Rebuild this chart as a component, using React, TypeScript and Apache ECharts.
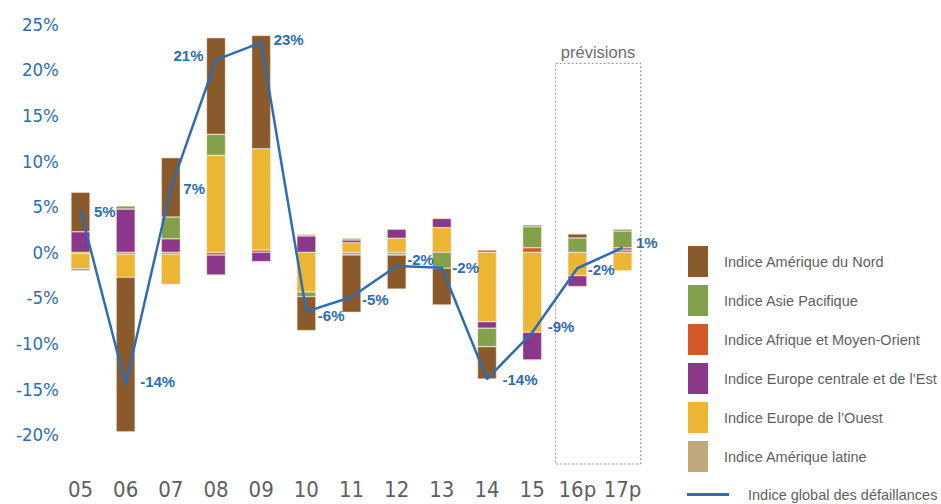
import React, { useEffect, useRef } from "react";
import * as echarts from "echarts";

const categories = ["05", "06", "07", "08", "09", "10", "11", "12", "13", "14", "15", "16p", "17p"];

// Regional contributions (percentage points)
const afriqueMoyenOrient = [-0.15, -0.2, -0.2, -0.3, 0.25, 0, 0, 0, 0, 0.25, 0.5, 0, 0.25];
const europeOuest = [-1.64, -2.54, -3.32, 10.64, 11.1, -4.35, 1.05, 1.54, 2.7, -7.61, -8.77, -2.56, -2.02];
const europeCentraleEst = [2.26, 4.75, 1.49, -2.2, -1.03, 1.79, 0.3, 0.99, 1.02, -0.72, -3.04, -1.2, 0.25];
const ameriqueLatine = [0, 0, 0, 0, 0, 0.19, -0.3, -0.3, 0, 0, 0, 0, 0];
const asiePacifique = [-0.22, 0.33, 2.38, 2.3, 0, -0.5, 0.19, 0, -1.75, -2.02, 2.3, 1.57, 1.83];
const ameriqueNord = [4.32, -16.95, 6.5, 10.59, 12.43, -3.73, -6.28, -3.73, -4.02, -3.54, 0.19, 0.44, 0.19];

// Global insolvency index
const indiceGlobal = [4.6, -14.5, 7.0, 21.1, 23.0, -6.5, -4.9, -1.5, -1.7, -13.9, -8.8, -1.75, 0.5];
const indiceGlobalLabels = ["5%", "-14%", "7%", "21%", "23%", "-6%", "-5%", "-2%", "-2%", "-14%", "-9%", "-2%", "1%"];

const yTicks = [-25, 25, 5]; // min, max, interval

// label styling (not data)
const labelPlacement: any[] = [
  { position: "right", offset: [2, 1] },
  { position: "right", offset: [3, -3] },
  { position: "right", offset: [1, 0] },
  { position: "left", offset: [-1, -4] },
  { position: "right", offset: [1, -3] },
  { position: "right", offset: [0, 4] },
  { position: "right", offset: [-1, 3] },
  { position: "right", offset: [-1, -6] },
  { position: "right", offset: [-1, 0] },
  { position: "right", offset: [4, 0] },
  { position: "right", offset: [4, -6] },
  { position: "right", offset: [-1, 1] },
  { position: "right", offset: [2, -5] },
];

const BLUE = "#2C6DB5";
const AXIS_FONT = "'DejaVu Sans Condensed', 'DejaVu Sans', sans-serif";
const FONT = "'Liberation Sans', Roboto, sans-serif";

const N_NORD = "Indice Amérique du Nord";
const N_ASIE = "Indice Asie Pacifique";
const N_AFR = "Indice Afrique et Moyen-Orient";
const N_ECE = "Indice Europe centrale et de l’Est";
const N_EO = "Indice Europe de l’Ouest";
const N_LAT = "Indice Amérique latine";
const N_GLOBAL = "Indice global des défaillances";

export default function App() {
  const ref = useRef<HTMLDivElement>(null);
  useEffect(() => {
    if (!ref.current) return;
    const chart = echarts.init(ref.current, null, { renderer: "svg" });
    const bar = (name: string, data: number[], color: string) => ({
      name,
      type: "bar",
      stack: "regions",
      data,
      barWidth: "42%",
      itemStyle: { color, borderColor: "rgba(240,225,200,0.7)", borderWidth: 0.6 },
    });
    chart.setOption({
      animation: false,
      grid: { left: 57.9, right: 295.9, top: 24.3, bottom: 23.7 },
      xAxis: {
        type: "category",
        data: categories,
        axisLine: { show: false },
        axisTick: { show: false },
        axisLabel: { color: "#5f5f5f", fontSize: 22, fontFamily: AXIS_FONT, margin: -2, interval: 0 },
      },
      yAxis: {
        type: "value",
        min: yTicks[0],
        max: yTicks[1],
        interval: yTicks[2],
        splitLine: { show: false },
        axisLine: { show: false },
        axisTick: { show: false },
        axisLabel: {
          color: BLUE,
          fontSize: 18.5,
          fontFamily: AXIS_FONT,
          margin: -1,
          formatter: (v: number) => (v === yTicks[0] ? "" : v + "%"),
        },
      },
      legend: [
        {
          data: [N_NORD, N_ASIE, N_AFR, N_ECE, N_EO, N_LAT],
          orient: "vertical",
          left: 683,
          top: 241,
          itemWidth: 20,
          itemHeight: 31,
          itemGap: 8,
          icon: "rect",
          selectedMode: false,
          itemStyle: { borderWidth: 0 },
          textStyle: { color: "#5f5f5f", fontSize: 14.5, fontFamily: FONT, padding: [0, 0, 0, 11] },
        },
        {
          data: [N_GLOBAL],
          left: 682,
          top: 482,
          itemWidth: 42,
          itemHeight: 3,
          icon: "rect",
          selectedMode: false,
          itemStyle: { borderWidth: 0 },
          textStyle: { color: "#5f5f5f", fontSize: 14.5, fontFamily: FONT, padding: [0, 0, 0, 14] },
        },
      ],
      series: [
        bar(N_AFR, afriqueMoyenOrient, "#D4592A"),
        bar(N_EO, europeOuest, "#ECB634"),
        bar(N_ECE, europeCentraleEst, "#8B388C"),
        bar(N_LAT, ameriqueLatine, "#BFA97B"),
        bar(N_ASIE, asiePacifique, "#83A04A"),
        bar(N_NORD, ameriqueNord, "#8A5A2D"),
        {
          name: N_GLOBAL,
          type: "line",
          z: 5,
          data: indiceGlobal.map((v, i) => ({ value: v, label: labelPlacement[i] })),
          symbol: "circle",
          symbolSize: 1,
          itemStyle: { color: BLUE },
          lineStyle: { color: BLUE, width: 2.5 },
          label: {
            show: true,
            distance: 11,
            color: BLUE,
            fontWeight: "bold",
            fontSize: 15,
            fontFamily: FONT,
            formatter: (p: any) => indiceGlobalLabels[p.dataIndex],
          },
        },
      ],
      graphic: [
        {
          type: "rect",
          shape: { x: 555.7, y: 63.3, width: 85, height: 400.7 },
          style: { fill: "none", stroke: "#8a8a8a", lineWidth: 1, lineDash: [2, 2] },
          silent: true,
        },
        {
          type: "text",
          x: 598,
          y: 51.7,
          style: {
            text: "prévisions",
            fill: "#6d6d6d",
            fontSize: 16.5,
            fontFamily: FONT,
            textAlign: "center",
            textVerticalAlign: "middle",
          },
          silent: true,
        },
      ],
    });
    return () => chart.dispose();
  }, []);
  return (
    <div
      ref={ref}
      style={{ position: "fixed", left: 0, top: 0, width: 941, height: 504, background: "#fff" }}
    />
  );
}
